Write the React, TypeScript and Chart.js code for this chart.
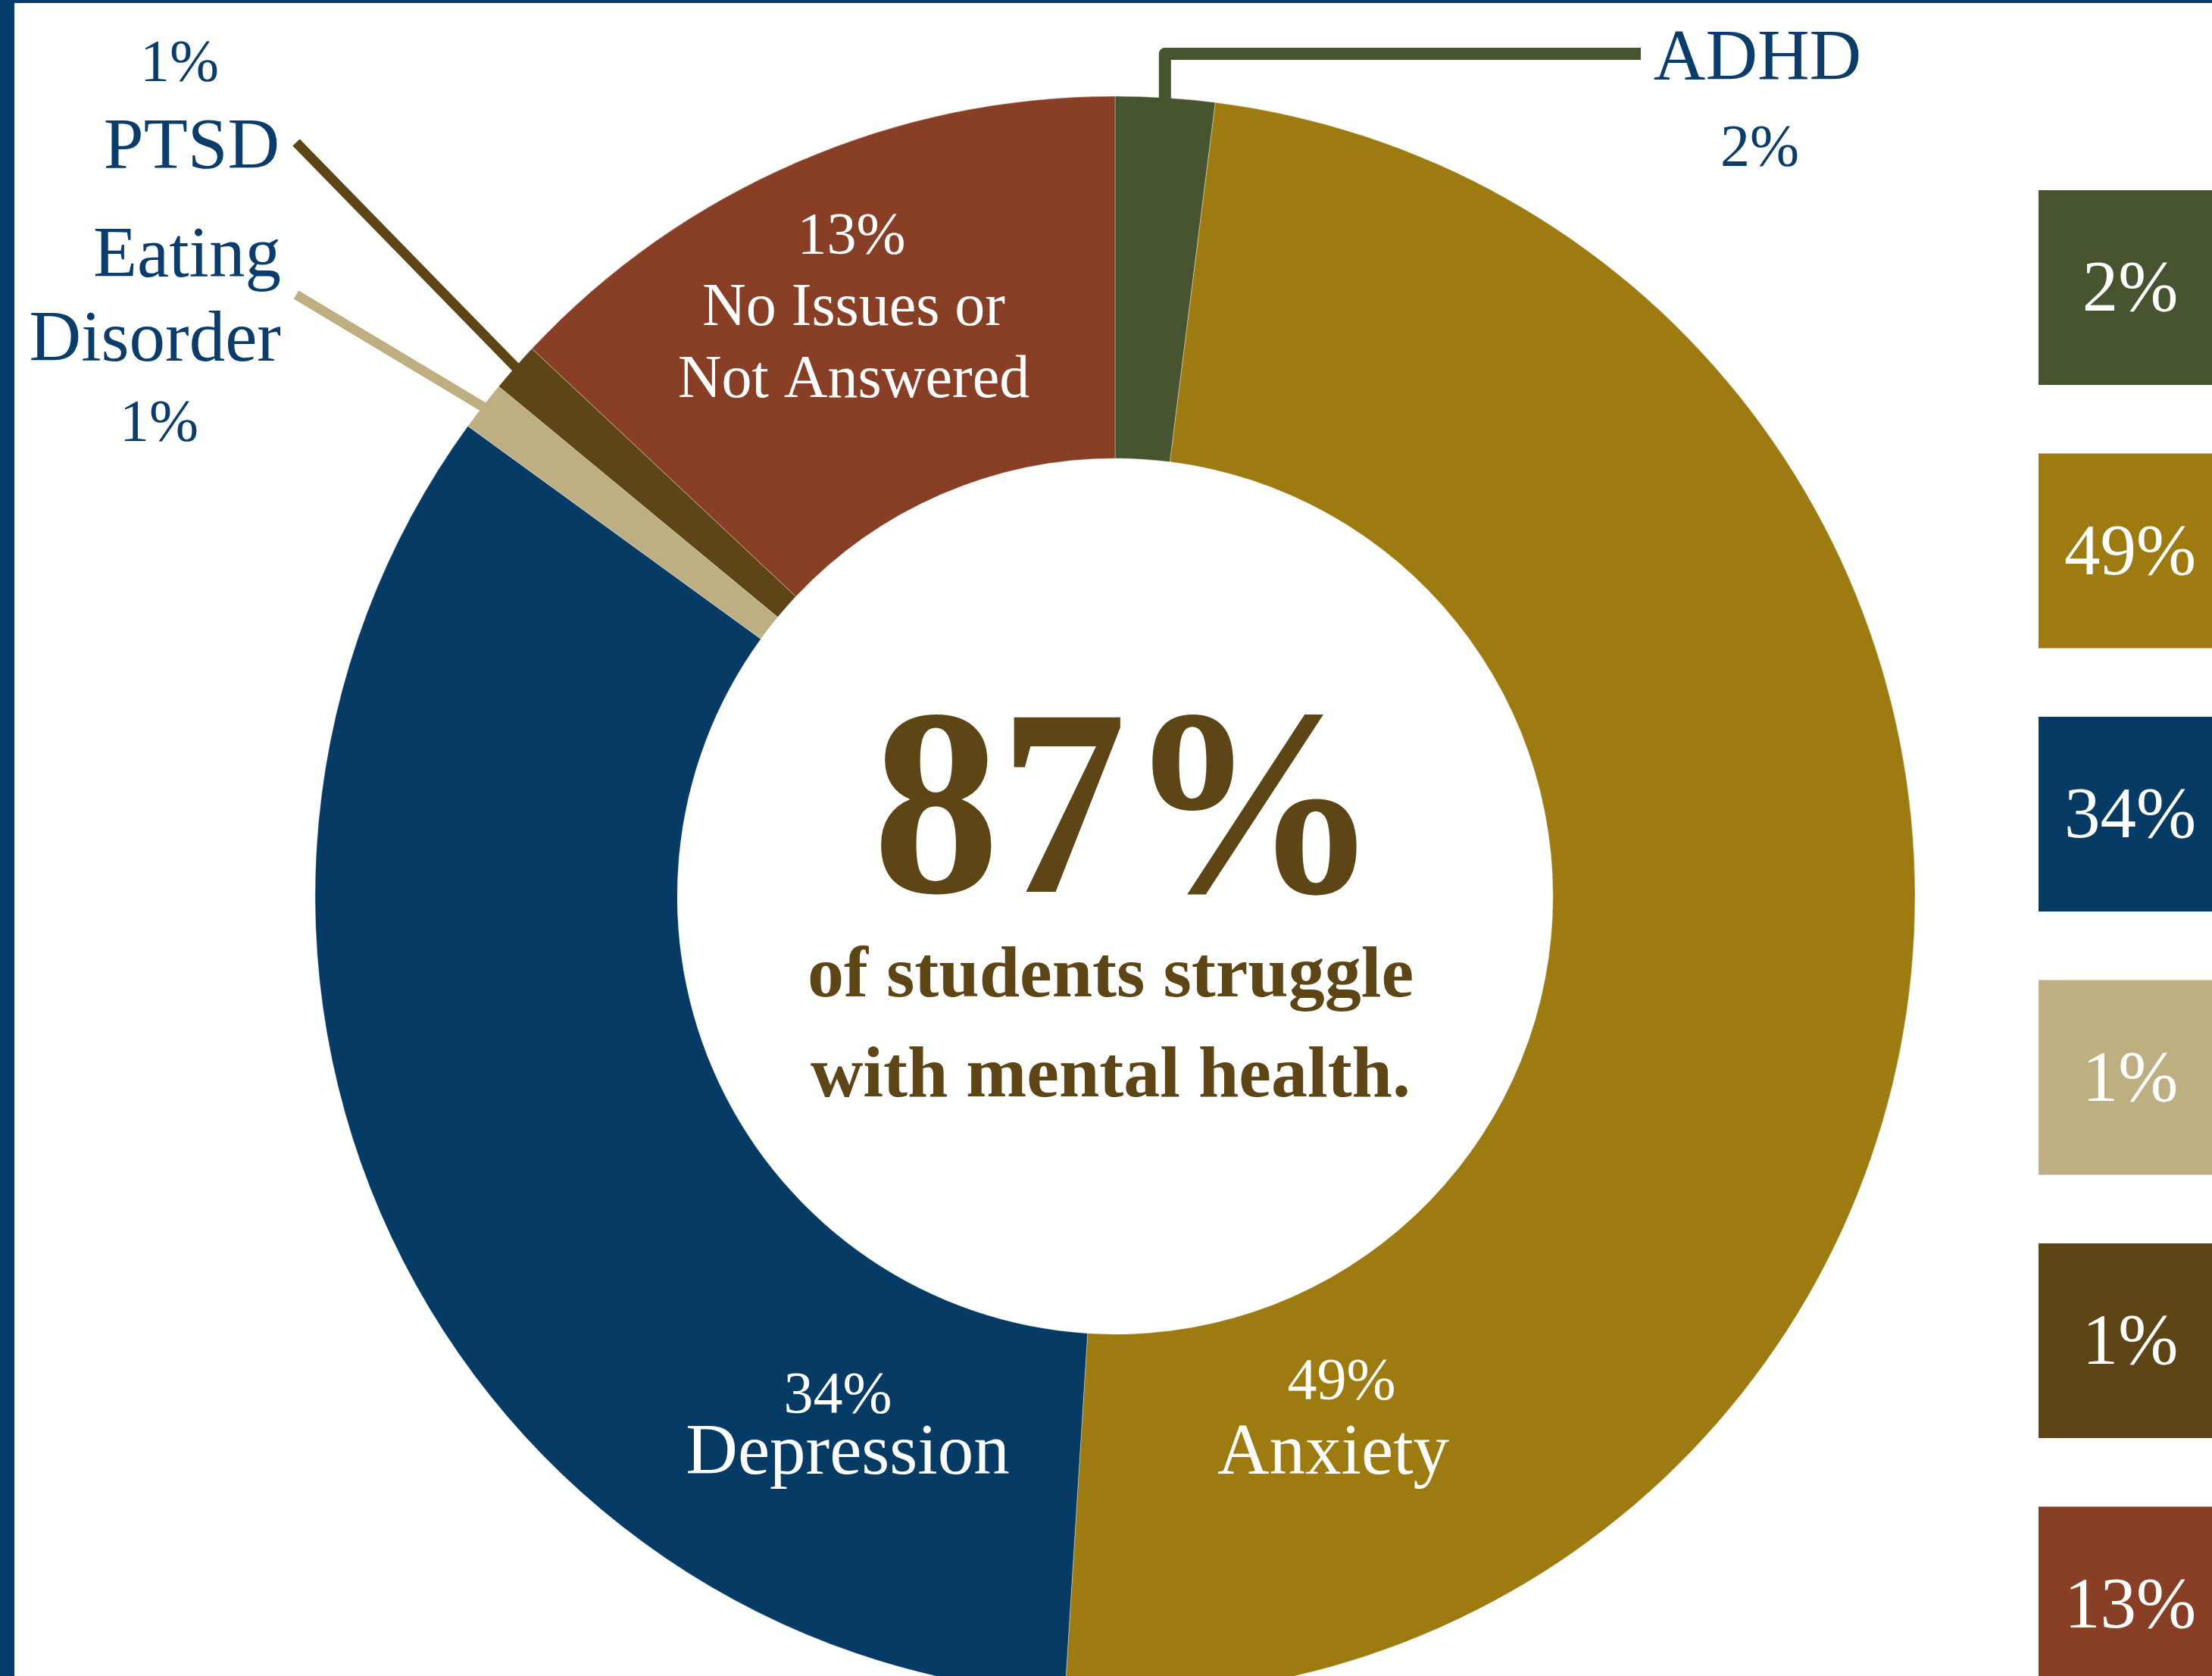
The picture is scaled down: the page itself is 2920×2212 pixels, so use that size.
import React, { useEffect, useRef } from 'react';
import { Chart, registerables } from 'chart.js';

Chart.register(...registerables);

// ---------------- data ----------------
const categories = ['ADHD', 'Anxiety', 'Depression', 'Eating Disorder', 'PTSD', 'No Issues or Not Answered'];
const values = [2, 49, 34, 1, 1, 13];
const nameLines = [['ADHD'], ['Anxiety'], ['Depression'], ['Eating', 'Disorder'], ['PTSD'], ['No Issues or', 'Not Answered']];
const colors = ['#46552F', '#9D7B11', '#063B66', '#BEAF83', '#5E4516', '#883F26'];
const headline = '87%';
const headlineLines = ['of students struggle', 'with mental health.'];

// ---------------- styles / layout ----------------
const BLUE = '#0A3D6B';
const WHITE = '#FFFFFF';
const BROWN = '#5E4516';
const FRAME = '#073D6A';
const FONT = '"Liberation Serif", "Times New Roman", serif';
const TEXT_DY = 6;

type Row = { text: 'pct' | number; x: number; y: number; size: number; align?: CanvasTextAlign };
type Leader =
  | { kind: 'line'; fromX: number; fromY: number; width: number }
  | { kind: 'elbow'; elbowY: number; toX: number; width: number };

const LABEL_LAYOUT: { color: string; rows: Row[]; leader?: Leader }[] = [
  {
    color: BLUE,
    rows: [
      { text: 0, x: 2320, y: 74, size: 95 },
      { text: 'pct', x: 2323, y: 192, size: 78 },
    ],
    leader: { kind: 'elbow', elbowY: 71, toX: 2166, width: 16 },
  },
  {
    color: WHITE,
    rows: [
      { text: 'pct', x: 1771, y: 1820, size: 78 },
      { text: 0, x: 1760, y: 1914, size: 95 },
    ],
  },
  {
    color: WHITE,
    rows: [
      { text: 'pct', x: 1106, y: 1838, size: 78 },
      { text: 0, x: 1119, y: 1914, size: 95 },
    ],
  },
  {
    color: BLUE,
    rows: [
      { text: 0, x: 371, y: 334, size: 95, align: 'right' },
      { text: 1, x: 371, y: 445, size: 95, align: 'right' },
      { text: 'pct', x: 210, y: 555, size: 78 },
    ],
    leader: { kind: 'line', fromX: 391, fromY: 389, width: 13 },
  },
  {
    color: BLUE,
    rows: [
      { text: 'pct', x: 237, y: 80, size: 78 },
      { text: 0, x: 253, y: 191, size: 95 },
    ],
    leader: { kind: 'line', fromX: 391, fromY: 188, width: 13 },
  },
  {
    color: WHITE,
    rows: [
      { text: 'pct', x: 1124, y: 308, size: 78 },
      { text: 0, x: 1127, y: 402, size: 80 },
      { text: 1, x: 1127, y: 497, size: 80 },
    ],
  },
];

const LEGEND = { x: 2691, w: 240, top: 251, pitch: 347.5, h: 257, textDX: 121, size: 95 };
const CENTER = { pctX: 1487, pctY: 1177, pctSize: 335, pctScaleY: 1.05, lineX: 1466, lineYs: [1315, 1447], lineSize: 96 };

const overlayPlugin = {
  id: 'overlay',
  beforeDraw(chart: any) {
    const ctx = chart.ctx as CanvasRenderingContext2D;
    ctx.save();
    ctx.fillStyle = '#FFFFFF';
    ctx.fillRect(0, 0, chart.width, chart.height);
    ctx.restore();
  },
  afterDatasetsDraw(chart: any) {
    const ctx = chart.ctx as CanvasRenderingContext2D;
    const arcs = chart.getDatasetMeta(0).data;
    ctx.save();

    // leader lines
    LABEL_LAYOUT.forEach((lay, i) => {
      if (!lay.leader) return;
      const a = arcs[i].getProps(['x', 'y', 'startAngle', 'endAngle', 'outerRadius'], true);
      const mid = (a.startAngle + a.endAngle) / 2;
      const r = a.outerRadius - 8;
      const px = a.x + r * Math.cos(mid);
      const py = a.y + r * Math.sin(mid);
      ctx.strokeStyle = colors[i];
      ctx.lineWidth = lay.leader.width;
      ctx.lineCap = 'butt';
      ctx.lineJoin = 'round';
      ctx.beginPath();
      if (lay.leader.kind === 'line') {
        ctx.moveTo(lay.leader.fromX, lay.leader.fromY);
        ctx.lineTo(px, py);
      } else {
        ctx.moveTo(px, py);
        ctx.lineTo(px, lay.leader.elbowY);
        ctx.lineTo(lay.leader.toX, lay.leader.elbowY);
      }
      ctx.stroke();
    });

    // labels
    ctx.textBaseline = 'middle';
    LABEL_LAYOUT.forEach((lay, i) => {
      ctx.fillStyle = lay.color;
      lay.rows.forEach((row) => {
        const txt = row.text === 'pct' ? `${values[i]}%` : nameLines[i][row.text as number];
        ctx.font = `${row.size}px ${FONT}`;
        ctx.textAlign = row.align || 'center';
        ctx.fillText(txt, row.x, row.y + TEXT_DY);
      });
    });

    // centre text
    ctx.fillStyle = BROWN;
    ctx.textAlign = 'center';
    ctx.textBaseline = 'alphabetic';
    ctx.save();
    ctx.translate(CENTER.pctX, CENTER.pctY);
    ctx.scale(1, CENTER.pctScaleY);
    ctx.font = `bold ${CENTER.pctSize}px ${FONT}`;
    ctx.fillText(headline, 0, 0);
    ctx.restore();
    ctx.font = `bold ${CENTER.lineSize}px ${FONT}`;
    headlineLines.forEach((t, k) => ctx.fillText(t, CENTER.lineX, CENTER.lineYs[k]));

    // legend boxes
    values.forEach((v, i) => {
      const top = LEGEND.top + i * LEGEND.pitch;
      ctx.fillStyle = colors[i];
      ctx.fillRect(LEGEND.x, top, LEGEND.w, LEGEND.h);
      ctx.fillStyle = WHITE;
      ctx.font = `${LEGEND.size}px ${FONT}`;
      ctx.textAlign = 'center';
      ctx.textBaseline = 'middle';
      ctx.fillText(`${v}%`, LEGEND.x + LEGEND.textDX, top + LEGEND.h / 2 + TEXT_DY);
    });

    // frame
    ctx.fillStyle = FRAME;
    ctx.fillRect(0, 0, 19, chart.height);
    ctx.fillRect(0, 0, chart.width, 4);

    ctx.restore();
  },
};

export default function App() {
  const ref = useRef<HTMLCanvasElement>(null);
  useEffect(() => {
    const canvas = ref.current!;
    const chart = new Chart(canvas, {
      type: 'doughnut',
      data: {
        labels: categories,
        datasets: [
          {
            data: values,
            backgroundColor: colors,
            borderWidth: 1,
            borderColor: 'rgba(255,255,255,0.35)',
            radius: 1056,
            cutout: '54.73%',
          } as any,
        ],
      },
      options: {
        responsive: false,
        animation: false,
        devicePixelRatio: 1,
        events: [],
        layout: { padding: { left: 24, right: 0, top: 154, bottom: 0 } },
        plugins: { legend: { display: false }, tooltip: { enabled: false } },
      } as any,
      plugins: [overlayPlugin],
    });
    return () => chart.destroy();
  }, []);
  return (
    <div style={{ position: 'fixed', left: 0, top: 0, width: 2920, height: 2212, background: '#fff', overflow: 'hidden' }}>
      <canvas ref={ref} width={2920} height={2212} style={{ display: 'block', width: 2920, height: 2212 }} />
    </div>
  );
}
